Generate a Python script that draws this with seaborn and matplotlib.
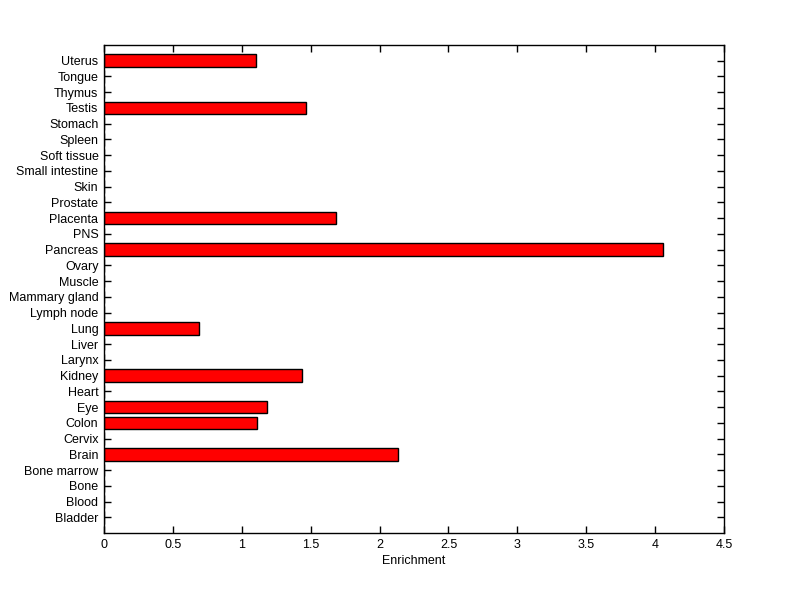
import numpy as np
import pandas as pd
import matplotlib
matplotlib.use("Agg")
import matplotlib.pyplot as plt
import seaborn as sns

# ── Data (bottom to top, as in the reference) ─────────────
TISSUES = ["Bladder", "Blood", "Bone", "Bone marrow", "Brain", "Cervix", "Colon",
           "Eye", "Heart", "Kidney", "Larynx", "Liver", "Lung", "Lymph node",
           "Mammary gland", "Muscle", "Ovary", "Pancreas", "PNS", "Placenta",
           "Prostate", "Skin", "Small intestine", "Soft tissue", "Spleen",
           "Stomach", "Testis", "Thymus", "Tongue", "Uterus"]
ENRICHMENT = [0, 0, 0, 0, 2.135, 0, 1.112,
              1.185, 0, 1.436, 0, 0, 0.692, 0,
              0, 0, 0, 4.054, 0, 1.682,
              0, 0, 0, 0, 0,
              0, 1.468, 0, 0, 1.102]
X_TICKS = [0, 0.5, 1, 1.5, 2, 2.5, 3, 3.5, 4, 4.5]

df = pd.DataFrame({"Tissue": TISSUES, "Enrichment": ENRICHMENT})

sns.set_style("white")
plt.rcParams["font.family"] = ["Liberation Sans", "DejaVu Sans"]
plt.rcParams["font.size"] = 9
plt.rcParams["text.color"] = "black"
plt.rcParams["axes.labelcolor"] = "black"
plt.rcParams["xtick.color"] = "black"
plt.rcParams["ytick.color"] = "black"

fig = plt.figure(figsize=(8.0, 5.99), dpi=100)
ax = fig.add_axes([0.13, 0.11, 0.775, 0.815])

sns.barplot(data=df, x="Enrichment", y="Tissue", order=TISSUES[::-1],
            orient="h", color="#ff0000", saturation=1, width=0.8,
            edgecolor="black", linewidth=1, ax=ax)

ax.set_xlim(0, 4.5)
ax.set_ylim(len(TISSUES), -1)
ax.set_xticks(X_TICKS)
ax.set_xticklabels([f"{t:g}" for t in X_TICKS])
ax.set_xlabel("Enrichment", fontsize=9, labelpad=3)
ax.set_ylabel("")

for s in ax.spines.values():
    s.set_visible(True)
    s.set_color("black")
    s.set_linewidth(1)
ax.tick_params(direction="in", top=True, right=True, left=True, bottom=True,
               length=5, width=1, color="black", labelcolor="black",
               labelsize=9, pad=4)

fig.savefig("out.png", dpi=100, facecolor="white")
